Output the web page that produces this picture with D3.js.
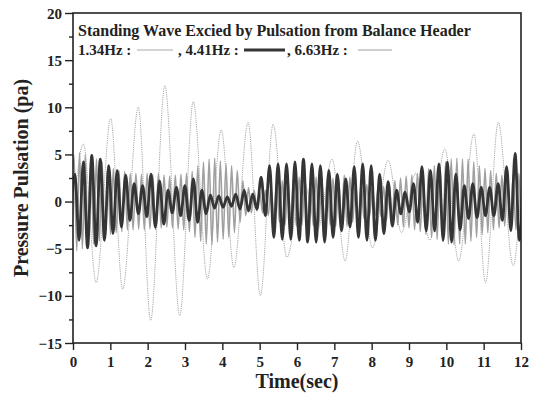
<!DOCTYPE html>
<html>
<head>
<meta charset="utf-8">
<script src="https://cdn.jsdelivr.net/npm/d3@7"></script>
<style>
  body { margin: 0; background: #fff; }
  svg { display: block; }
  text { font-family: "Liberation Serif", "Times New Roman", serif; font-weight: bold; fill: #222; }
</style>
</head>
<body>
<div id="chart"></div>
<script>
// ---- data ----
var xTicks = [0, 1, 2, 3, 4, 5, 6, 7, 8, 9, 10, 11, 12];
var yTicks = [-15, -10, -5, 0, 5, 10, 15, 20];
var yMinor = [-12.5, -7.5, -2.5, 2.5, 7.5, 12.5, 17.5];

// 1.34Hz : extrema (time, value)
var t134 = [0, 0.28, 0.62, 1.01, 1.33, 1.75, 2.08, 2.46, 2.86, 3.22, 3.60, 3.97, 4.31, 4.69, 5.02, 5.36,
            5.73, 6.15, 6.55, 6.94, 7.29, 7.62, 8.02, 8.44, 8.80, 9.18, 9.56, 9.96, 10.33, 10.74, 11.05,
            11.39, 11.79, 12];
var v134 = [-1.5, 6.1, -8.6, 8.8, -9.3, 10.0, -12.6, 12.3, -12.1, 10.6, -8.2, 7.6, -7.0, 8.4, -10.0, 8.2,
            -5.9, 2.5, -3.0, 4.5, -6.3, 6.4, -4.9, 4.4, -3.3, 3.0, -4.1, 5.6, -6.3, 7.2, -8.6,
            8.4, -6.8, 1.5];

// 4.41Hz : successive extrema, one every half period, first one at t = -0.063 s
var start441 = -0.063;
var v441 = [-2.5, 2.9, -4.1, 4.2, -4.9, 4.9, -4.7, 4.5, -4.1, 3.8, -3.4, 3.3, -2.7, 2.8, -2.0, 1.9,
            -1.3, 1.7, -1.6, 2.9, -2.7, 2.2, -2.4, 1.2, -1.2, 1.5, -1.5, 1.7, -2.0, 2.4, -2.2, 1.2,
            -1.3, 0.7, -0.7, 0.6, -0.6, 0.5, -0.5, 0.8, -0.8, 1.2, -1.0, 0.8, -0.8, 2.6, -1.5, 3.8,
            -3.8, 4.0, -4.0, 4.0, -4.0, 4.2, -4.1, 4.5, -4.3, 4.0, -4.3, 3.8, -4.3, 3.3, -3.8, 2.9,
            -3.1, 2.4, -2.7, 3.7, -3.8, 4.0, -4.1, 3.8, -4.1, 2.9, -3.4, 2.1, -2.6, 1.2, -1.3, 1.0,
            -1.1, 1.9, -2.2, 3.7, -3.1, 3.3, -3.1, 4.0, -4.1, 4.2, -4.3, 2.9, -3.0, 1.7, -1.8, 1.9,
            -1.7, 1.5, -1.5, 1.5, -1.5, 1.9, -2.0, 3.7, -3.1, 5.1, -4.1, 4.5];

// 6.63Hz : successive extrema, one every half period, first one at t = -0.05 s
var start663 = -0.05;
var v663 = [-5.0, 5.0, -5.2, 5.2, -5.0, 5.0, -4.8, 4.8, -4.5, 4.5, -4.2, 4.2, -3.8, 3.8, -3.5, 3.5,
            -3.3, 3.3, -3.2, 3.2, -3.0, 3.0, -3.0, 3.0, -2.9, 2.9, -3.0, 3.0, -2.9, 2.9, -3.0, 3.0,
            -2.8, 2.8, -2.7, 2.7, -2.8, 2.8, -2.9, 2.9, -3.0, 3.0, -3.2, 3.2, -3.8, 3.8, -4.2, 4.2,
            -4.5, 4.5, -4.6, 4.6, -4.3, 4.3, -4.0, 4.0, -3.8, 3.8, -3.3, 3.3, -2.2, 2.2, -1.5, 1.5,
            -1.2, 1.2, -1.0, 1.0, -1.2, 1.2, -1.5, 1.5, -2.0, 2.0, -2.2, 2.2, -2.5, 2.5, -2.5, 2.5,
            -2.6, 2.6, -2.5, 2.5, -2.5, 2.5, -2.6, 2.6, -2.5, 2.5, -2.4, 2.4, -2.5, 2.5, -2.6, 2.6,
            -2.8, 2.8, -2.6, 2.6, -2.2, 2.2, -2.0, 2.0, -1.8, 1.8, -1.6, 1.6, -1.5, 1.5, -1.6, 1.6,
            -2.0, 2.0, -2.2, 2.2, -2.5, 2.5, -2.7, 2.7, -2.8, 2.8, -3.0, 3.0, -3.2, 3.2, -3.5, 3.5,
            -3.8, 3.8, -4.0, 4.0, -4.2, 4.2, -4.5, 4.5, -4.6, 4.6, -4.5, 4.5, -4.5, 4.5, -4.2, 4.2,
            -3.8, 3.8, -3.5, 3.5, -3.3, 3.3, -3.0, 3.0, -2.8, 2.8, -2.6, 2.6, -2.8, 2.8, -3.0, 3.0,
            -3.2, 3.2];

var freqs = [1.34, 4.41, 6.63];
var titleText = 'Standing Wave Excied by Pulsation from Balance Header';

// ---- layout ----
var width = 533, height = 396;
var pLeft = 73, pRight = 521, pTop = 13, pBottom = 343;

var svg = d3.select('#chart').append('svg')
    .attr('width', width)
    .attr('height', height);

var x = d3.scaleLinear().domain([0, 12]).range([pLeft, pRight]);
var y = d3.scaleLinear().domain([-15, 20]).range([pBottom, pTop]);

svg.append('clipPath').attr('id', 'plot')
  .append('rect')
    .attr('x', pLeft).attr('y', pTop)
    .attr('width', pRight - pLeft).attr('height', pBottom - pTop);

// build point lists
var pts134 = t134.map(function(t, i) { return [t, v134[i]]; });
var pts441 = v441.map(function(v, i) { return [start441 + i / (2 * freqs[1]), v]; });
var pts663 = v663.map(function(v, i) { return [start663 + i / (2 * freqs[2]), v]; });

var line = d3.line()
    .x(function(d) { return x(d[0]); })
    .y(function(d) { return y(d[1]); })
    .curve(d3.curveMonotoneX);

var g = svg.append('g').attr('clip-path', 'url(#plot)');

g.append('path')
    .attr('d', line(pts134))
    .style('fill', 'none')
    .style('stroke', '#a8a8a8')
    .style('stroke-width', 1)
    .style('stroke-dasharray', '1.2,1');

g.append('path')
    .attr('d', line(pts663))
    .style('fill', 'none')
    .style('stroke', '#a0a0a0')
    .style('stroke-width', 1.6);

g.append('path')
    .attr('d', line(pts441))
    .style('fill', 'none')
    .style('stroke', '#353535')
    .style('stroke-width', 2.8);

// ---- axes ----
var xAxis = d3.axisBottom(x).tickValues(xTicks).tickSize(7).tickPadding(6)
    .tickFormat(d3.format('d'));
var gx = svg.append('g')
    .attr('transform', 'translate(0,' + pBottom + ')')
    .call(xAxis);

var yAxis = d3.axisLeft(y).tickValues(yTicks).tickSize(8).tickPadding(3)
    .tickFormat(d3.format('d'));
var gy = svg.append('g')
    .attr('transform', 'translate(' + pLeft + ',0)')
    .call(yAxis);

var gyMinor = svg.append('g')
    .attr('transform', 'translate(' + pLeft + ',0)')
    .call(d3.axisLeft(y).tickValues(yMinor).tickSize(4).tickFormat(''));

[gx, gy, gyMinor].forEach(function(a) {
    a.select('.domain').remove();
    a.selectAll('line').style('stroke', '#222').style('stroke-width', 1.4);
    a.selectAll('text')
        .style('font-family', '"Liberation Serif", serif')
        .style('font-weight', 'bold')
        .style('font-size', '15px')
        .style('fill', '#222');
});
gy.selectAll('text').attr('dy', '0.34em');

// frame
svg.append('rect')
    .attr('x', pLeft).attr('y', pTop)
    .attr('width', pRight - pLeft).attr('height', pBottom - pTop)
    .style('fill', 'none')
    .style('stroke', '#222')
    .style('stroke-width', 1.6);

// axis titles
svg.append('text')
    .attr('x', (pLeft + pRight) / 2)
    .attr('y', 388)
    .attr('text-anchor', 'middle')
    .style('font-size', '20px')
    .text('Time(sec)');

svg.append('text')
    .attr('transform', 'translate(28,' + ((pTop + pBottom) / 2) + ') rotate(-90)')
    .attr('text-anchor', 'middle')
    .style('font-size', '20px')
    .text('Pressure Pulsation (pa)');

// ---- title + legend ----
svg.append('text')
    .attr('x', 78).attr('y', 36)
    .style('font-size', '16px')
    .text(titleText);

var legend = [
    { label: '1.34Hz :', tx: 78, x1: 137, x2: 173, color: '#a8a8a8', w: 1 },
    { label: ', 4.41Hz :', tx: 178, x1: 244, x2: 285, color: '#353535', w: 2.8 },
    { label: ', 6.63Hz :', tx: 287, x1: 358, x2: 392, color: '#a0a0a0', w: 1.2 }
];
var lg = svg.append('g');
legend.forEach(function(d) {
    lg.append('text')
        .attr('x', d.tx).attr('y', 55)
        .style('font-size', '15px')
        .text(d.label);
    lg.append('line')
        .attr('x1', d.x1).attr('x2', d.x2)
        .attr('y1', 50).attr('y2', 50)
        .style('stroke', d.color)
        .style('stroke-width', d.w);
});
</script>
</body>
</html>
